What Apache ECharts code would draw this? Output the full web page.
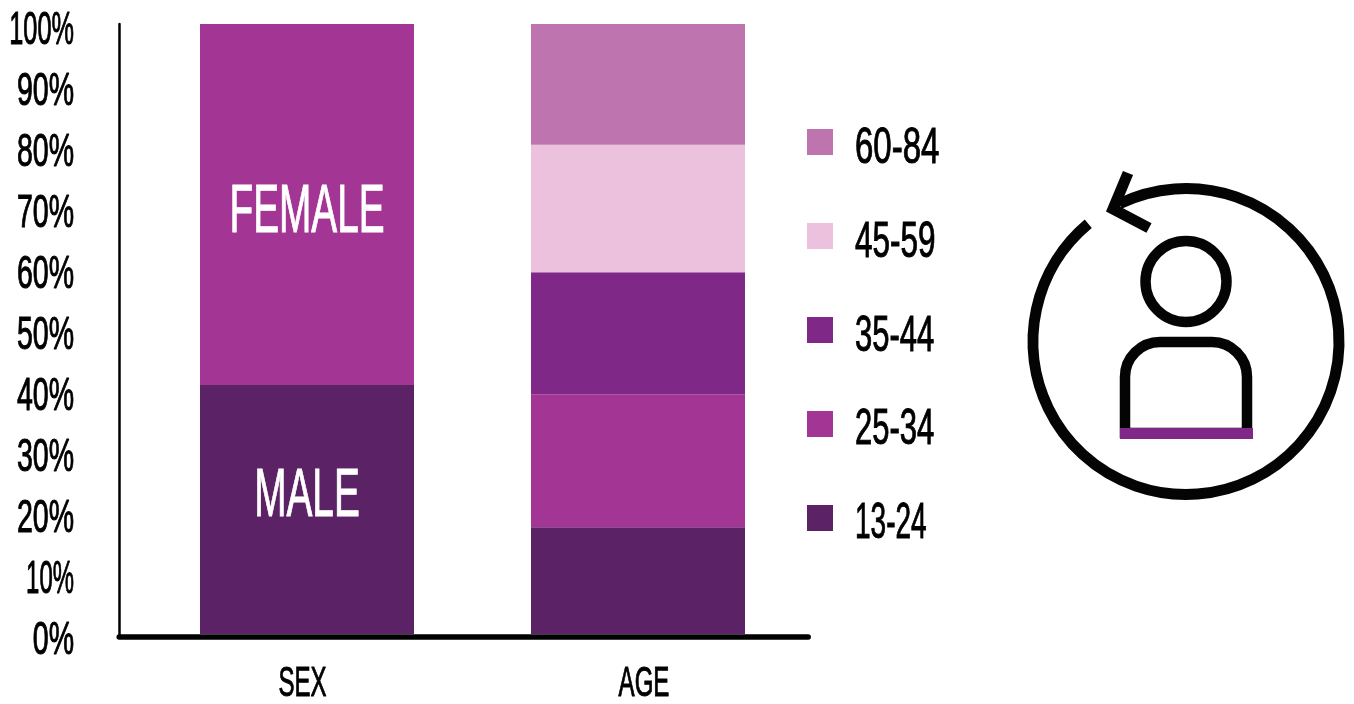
<!DOCTYPE html>
<html>
<head>
<meta charset="utf-8">
<style>html,body{margin:0;padding:0;background:#fff}#main{width:1354px;height:704px}</style>
<script src="https://cdn.jsdelivr.net/npm/echarts@6/dist/echarts.min.js"></script>
</head>
<body>
<div id="main"></div>
<script>
// Audience breakdown, in percent of total
const categories = ['SEX', 'AGE'];
const yTicks = [0, 10, 20, 30, 40, 50, 60, 70, 80, 90, 100];
const sexNames = ['MALE', 'FEMALE'];
const sexValues = [40.8, 59.2];
const sexColors = ['#5b2366', '#a33694'];
const sexLabelLevels = [22.5, 69];
const ageNames = ['13-24', '25-34', '35-44', '45-59', '60-84'];
const ageValues = [17.5, 21.8, 20, 20.9, 19.8];
const ageColors = ['#5b2366', '#a33694', '#7f2888', '#ecc1dd', '#be74ae'];

const FONT = '"Liberation Sans Narrow", "Liberation Sans", sans-serif';

const chart = echarts.init(document.getElementById('main'), null, {renderer: 'canvas'});

const barStyle = (name, color, data) => ({
  name, type: 'bar', stack: 'total', xAxisIndex: 1, yAxisIndex: 1,
  barWidth: 214, data, itemStyle: {color}, emphasis: {disabled: true}
});

chart.setOption({
  animation: false,
  backgroundColor: '#fff',
  grid: [
    // frame of the plot: axis lines only
    {left: 119.2, width: 689, top: 24, height: 612.5},
    // bars and their scale
    {left: 141.5, width: 662, top: 24, height: 610}
  ],
  xAxis: [
    {gridIndex: 0, type: 'category', data: ['', ''],
     axisLine: {lineStyle: {color: '#000', width: 5.5}}, axisTick: {show: false}, axisLabel: {show: false}, z: 5},
    {gridIndex: 1, type: 'category', data: categories,
     axisLine: {show: false}, axisTick: {show: false}, axisLabel: {show: false}}
  ],
  yAxis: [
    {gridIndex: 0, type: 'value', min: 0, max: 100, interval: 10,
     axisLine: {show: true, lineStyle: {color: '#000', width: 2.5}}, axisTick: {show: false},
     axisLabel: {show: false}, splitLine: {show: false}},
    {gridIndex: 1, type: 'value', min: 0, max: 100, interval: 10,
     axisLine: {show: false}, axisTick: {show: false}, axisLabel: {show: false}, splitLine: {show: false}}
  ],
  legend: {
    orient: 'vertical', left: 807, top: 129, padding: 0, itemWidth: 26, itemHeight: 26, itemGap: 68,
    icon: 'rect', selectedMode: false, formatter: () => ' ', textStyle: {fontSize: 12},
    data: ageNames.slice().reverse()
  },
  series: [
    ...sexNames.map((n, i) => barStyle(n, sexColors[i], [sexValues[i], null])),
    ...ageNames.map((n, i) => barStyle(n, ageColors[i], [null, ageValues[i]]))
  ]
});

// Condensed lettering: text elements squeezed horizontally, anchored through the axis scales
function label(text, x, y, size, squeeze, align, fill) {
  const color = fill || '#000';
  return {
    type: 'text', x, y, scaleX: squeeze, z: 20,
    style: {text, font: size + 'px ' + FONT, fill: color, stroke: color, lineWidth: 1,
            textAlign: align, textVerticalAlign: 'middle'}
  };
}

const yPx = v => chart.convertToPixel({yAxisIndex: 1}, v);
const xPx = i => chart.convertToPixel({xAxisIndex: 1}, i);

// The condensed face has a very narrow 1, so strings with a 1 get a tighter squeeze
const tickSqueeze = v => (v === 10 ? 0.52 : v === 100 ? 0.55 : 0.62);
const legendSqueeze = [0.66, 0.63, 0.62, 0.62, 0.56];

const tickLabels = yTicks.map(v => label(v + '%', 74, yPx(v) + 7.5, 46, tickSqueeze(v), 'right'));
const catNudge = [-4.5, 6];
const catLabels = categories.map((c, i) => label(c, xPx(i) + catNudge[i], 684, 43, 0.56, 'center'));
const sexLabels = sexNames.map((n, i) => label(n, xPx(0), yPx(sexLabelLevels[i]), 68, 0.57, 'center', '#fff'));
const legendLabels = ageNames.slice().reverse().map((n, i) => label(n, 855, 149.5 + i * 93.7, 50, legendSqueeze[i], 'left'));

// Returning-visitor icon: looping arrow around a person
const ink = w => ({stroke: '#040404', lineWidth: w, fill: null, lineJoin: 'miter', lineCap: 'butt'});
const icon = [
  {type: 'arc', shape: {cx: 1186, cy: 341.5, r: 153, startAngle: -115.9 * Math.PI / 180, endAngle: 230.3 * Math.PI / 180, clockwise: true}, style: ink(11)},
  {type: 'polyline', shape: {points: [[1128, 173], [1113, 209], [1149, 228]]}, style: ink(11)},
  {type: 'circle', shape: {cx: 1186, cy: 281.5, r: 40.5}, style: ink(10.5)},
  {type: 'rect', shape: {x: 1125, y: 342, width: 122, height: 91, r: [35, 35, 0, 0]}, style: ink(10.5)},
  {type: 'rect', z: 3, shape: {x: 1120, y: 428, width: 133, height: 11}, style: {fill: '#7f2888'}}
];

chart.setOption({graphic: [...tickLabels, ...catLabels, ...sexLabels, ...legendLabels, ...icon]});
</script>
</body>
</html>
